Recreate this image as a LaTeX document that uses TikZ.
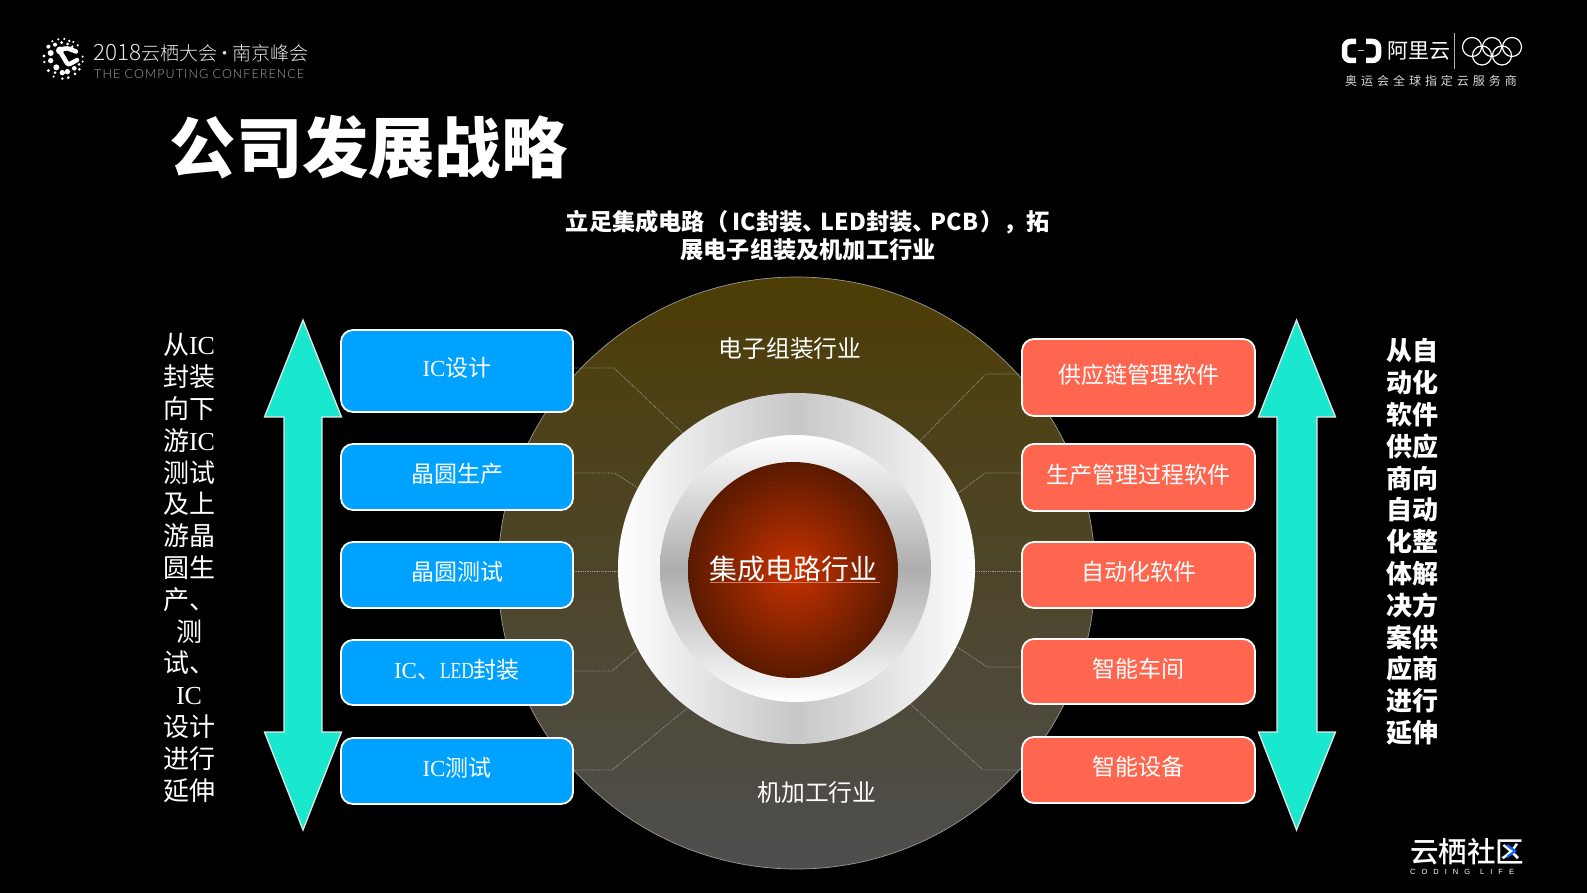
\documentclass[tikz,border=0pt]{standalone}
\usepackage{fontspec}
\setmainfont{Noto Sans CJK SC}
\newfontfamily\lsfont{Liberation Serif}
\newfontfamily\ledfont[FakeStretch=0.76]{Liberation Serif}
\newfontfamily\blackfont{Noto Sans CJK SC Black}
\newfontfamily\lightfont{Noto Sans CJK SC Light}
\newfontfamily\mediumfont{Noto Sans CJK SC Medium}
\newfontfamily\latofont[LetterSpace=8.5]{Lato Light}
\newfontfamily\spacedfont[LetterSpace=33]{Noto Sans CJK SC}
\newfontfamily\codingfont[LetterSpace=80]{Liberation Sans}
\usetikzlibrary{shapes.geometric}
\definecolor{boxblue}{HTML}{00A2FF}
\definecolor{boxred}{HTML}{FF6650}
\definecolor{arrowteal}{HTML}{19E8CF}
\definecolor{outertop}{HTML}{4D3D05}
\definecolor{outerbottom}{HTML}{4E4E4E}
\definecolor{corein}{HTML}{C83200}
\definecolor{coreout}{HTML}{5A1A00}
\tikzset{
    lefttask/.style={draw=white, fill=boxblue, line width=1.8pt, rounded corners=12pt, minimum width=232pt, text=white, inner sep=0pt, text height=15pt, text depth=4pt, font=\fontsize{23}{28}\selectfont},
    righttask/.style={lefttask, fill=boxred, minimum width=233pt},
    level/.style={text=white, inner sep=0pt, font=\fontsize{23.8}{28}\selectfont},
    bigarrow/.style={draw=white!90!black, fill=arrowteal, line width=1.3pt, line join=miter},
    link/.style={densely dotted, draw=white!60!black, line width=0.8pt},
    side/.style={text=white, inner sep=0pt, align=center}
}
\begin{document}
\begin{tikzpicture}[x=1pt,y=-1pt]
    \fill[black] (0,0) rectangle (1587,893);
    \useasboundingbox (0,0) rectangle (1587,893);
    \node[ellipse, draw=white!60!black, line width=0.7pt, top color=outertop, bottom color=outerbottom, minimum width=597pt, minimum height=592pt, inner sep=0pt] (outer) at (796.5,573) {};
    \node[ellipse, left color=white, right color=white, middle color=white!78!black, minimum width=357pt, minimum height=351pt, inner sep=0pt] (ring) at (796.5,568.5) {};
    \node[ellipse, top color=white, bottom color=white, middle color=white!68!black, minimum width=271pt, minimum height=267pt, inner sep=0pt] (innerring) at (795.5,568.5) {};
    \node[ellipse, inner color=corein, outer color=coreout, minimum width=210pt, minimum height=216pt, inner sep=0pt] (core) at (793,570) {};
    \draw[white!35!corein, line width=0.4pt] (710,582) -- (880,582);
    \node[text=white, inner sep=0pt, font=\fontsize{27.9}{32}\selectfont] (corelabel) at (793.5,569) {集成电路行业};
    \node[level] (toplevel) at (790,349) {电子组装行业};
    \node[level] (bottomlevel) at (817,792) {机加工行业};
    % left column
    \node[lefttask, minimum height=82pt] (icdesign) at (457,371) {{\lsfont IC}设计};
    \node[lefttask, minimum height=66pt] (waferfab) at (457,477) {晶圆生产};
    \node[lefttask, minimum height=66pt] (wafertest) at (457,575) {晶圆测试};
    \node[lefttask, minimum height=65pt] (icpack) at (457,672.5) {{\lsfont IC}、{\ledfont LED}封装};
    \node[lefttask, minimum height=66pt] (ictest) at (457,771) {{\lsfont IC}测试};
    % right column
    \node[righttask, minimum height=77pt] (scm) at (1138.5,377.5) {供应链管理软件};
    \node[righttask, minimum height=67pt] (mes) at (1138.5,477.5) {生产管理过程软件};
    \node[righttask, minimum height=66pt] (autosw) at (1138.5,575) {自动化软件};
    \node[righttask, minimum height=65pt] (workshop) at (1138.5,671.5) {智能车间};
    \node[righttask, minimum height=66pt] (device) at (1138.5,770) {智能设备};
    \coordinate (benda) at (614,368);
    \coordinate (bendb) at (614,473);
    \coordinate (bendc) at (612,671);
    \coordinate (bendd) at (612,770);
    \coordinate (bende) at (986,374);
    \coordinate (bendf) at (985,473);
    \coordinate (bendg) at (987,667);
    \coordinate (bendh) at (983,770);
    \draw[link] (icdesign.east |- benda) -- (benda) -- (ring.130);
    \draw[link] (waferfab.east |- bendb) -- (bendb) -- (ring.153);
    \draw[link] (wafertest.east |- ring.181) -- (ring.181);
    \draw[link] (icpack.east |- bendc) -- (bendc) -- (ring.207);
    \draw[link] (ictest.east |- bendd) -- (bendd) -- (ring.232);
    \draw[link] (scm.west |- bende) -- (bende) -- (ring.46);
    \draw[link] (mes.west |- bendf) -- (bendf) -- (ring.25);
    \draw[link] (autosw.west |- ring.-1) -- (ring.-1);
    \draw[link] (workshop.west |- bendg) -- (bendg) -- (ring.-26);
    \draw[link] (device.west |- bendh) -- (bendh) -- (ring.-50);
    % arrows
    \draw[bigarrow] (303,320) -- (341.5,417) -- (322,417) -- (322,732) -- (341.5,732) -- (303,830) -- (264.5,732) -- (284,732) -- (284,417) -- (264.5,417) -- cycle;
    \draw[bigarrow] (1296.5,320) -- (1335.5,417) -- (1317,417) -- (1317,732) -- (1335.5,732) -- (1296.5,830) -- (1258.5,732) -- (1277,732) -- (1277,417) -- (1258.5,417) -- cycle;
    \node[side, font=\fontsize{26}{31.8}\selectfont] (lefttext) at (189,568) {从{\lsfont IC}\\封装\\向下\\游{\lsfont IC}\\测试\\及上\\游晶\\圆生\\产、\\测\\试、\\{\lsfont IC}\\设计\\进行\\延伸};
    \node[side, font=\fontsize{26}{31.8}\selectfont\bfseries] (righttext) at (1412,542) {从自\\动化\\软件\\供应\\商向\\自动\\化整\\体解\\决方\\案供\\应商\\进行\\延伸};
    % title
    \node[text=white, inner sep=0pt, anchor=west, font=\fontsize{66.3}{70}\blackfont] (title) at (169.5,147) {公司发展战略};
    \node[text=white, inner sep=0pt, align=center, font=\fontsize{23.2}{28}\selectfont\bfseries] (subtitle) at (808,235.5) {立足集成电路（\kern4.5pt IC封装、\kern-5pt LED封装、\kern-5pt PCB\kern2pt），拓\\展电子组装及机加工行业};
    % header left
    \foreach \x/\y/\r in {70/28/3.5,88/27/3.5,103/33/4,115/36/3.5,128/46/3.5,52/34/3.5,60/44/6,80/38/5,98/42/4.5,112/50/4,40/50/6,47/69/9,27/78/5,28/96/4,47/92/8,64/112/9,40/122/5,56/140/3.5,82/128/8,97/125/8,118/115/7,132/103/4.5,143/80/3.5,143/95/3.5,133/118/4.5,120/132/4.5,100/143/4.5,82/146/4,60/128/4.5}
        \fill[white] ({35+\x/3},{30+\y/3}) circle ({\r/3});
    \draw[white, line width=4.5pt, line cap=round, rounded corners=2.5pt] (76,51.5) -- (67,48) -- (59,50) -- (64,58) -- (68,65) -- (77,60);
    \fill[white] (60,50.5) circle (4);
    \node[text=white!90!black, inner sep=0pt, anchor=west, font=\fontsize{19}{24}\lightfont] (confname) at (93.5,53) {{\fontsize{22.5}{24}\selectfont 2018}云栖大会\kern-2pt·\kern-2pt南京峰会};
    \node[text=white!65!black, inner sep=0pt, anchor=west, font=\fontsize{12.5}{14}\latofont] (confsub) at (94,74) {THE COMPUTING CONFERENCE};
    % header right
    \draw[white, line width=5.5pt, rounded corners=6pt] (1356,41.5) -- (1344.5,41.5) -- (1344.5,60.5) -- (1356,60.5);
    \draw[white, line width=5.5pt, rounded corners=6pt] (1366,41.5) -- (1378.5,41.5) -- (1378.5,60.5) -- (1366,60.5);
    \draw[white!75!black, line width=1pt] (1358,51) -- (1364,51);
    \node[text=white, inner sep=0pt, anchor=west, font=\fontsize{21}{24}\selectfont] (aliyun) at (1387,51) {阿里云};
    \draw[white!70!black, line width=0.8pt] (1454,33) -- (1454,69);
    \foreach \x/\y in {1472/47,1492/47,1512/47,1482/55.5,1502/55.5}
        \draw[white, line width=1.2pt] (\x,\y) circle (9.5);
    \node[text=white!85!black, inner sep=0pt, anchor=west, font=\fontsize{12}{14}\spacedfont] (sponsor) at (1345,81) {奥运会全球指定云服务商};
    % footer
    \node[text=white, inner sep=0pt, anchor=west, font=\fontsize{28.5}{32}\mediumfont] (community) at (1410,852) {云栖社区};
    \draw[blue!60!cyan, line width=2.2pt] (1507,845) -- (1515,851) -- (1507,857);
    \node[text=white, inner sep=0pt, anchor=west, font=\fontsize{7.5}{9}\codingfont] (coding) at (1410,872) {CODING\kern10pt LIFE};
\end{tikzpicture}
\end{document}
